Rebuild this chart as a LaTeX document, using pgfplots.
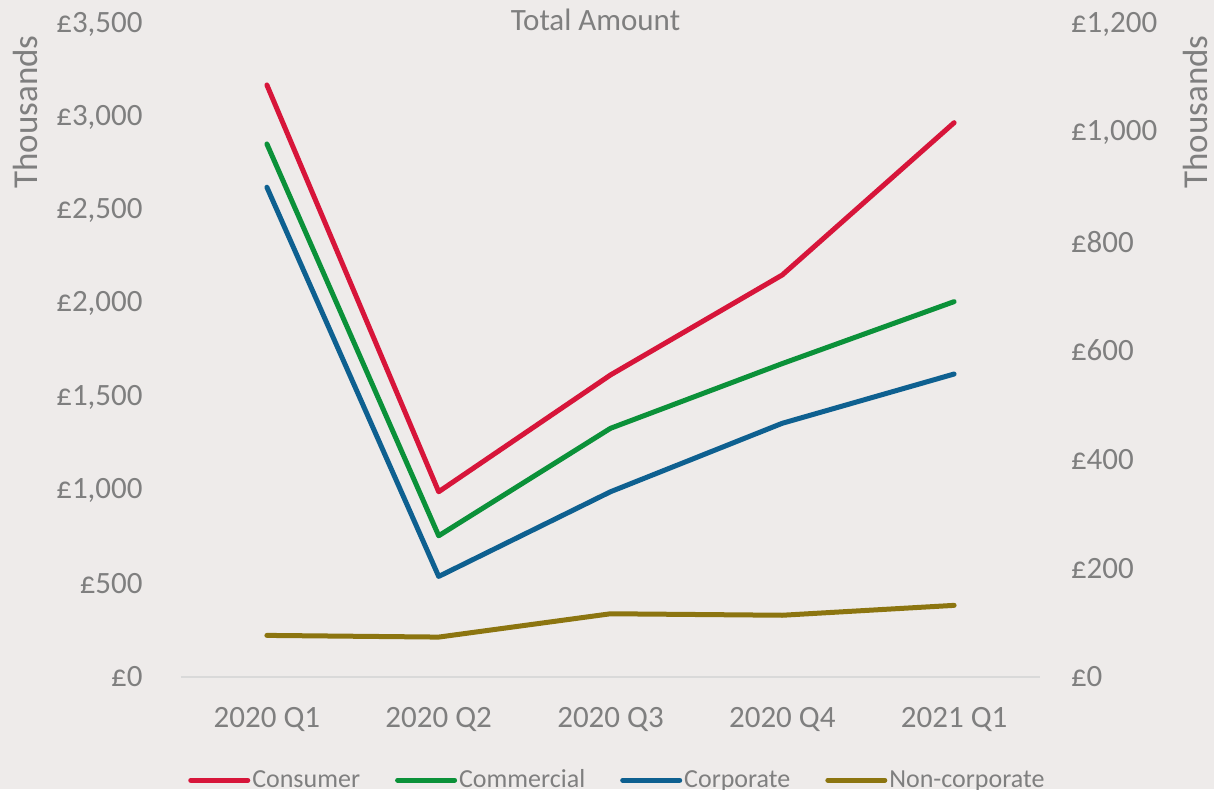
\documentclass[border=0pt]{standalone}
\usepackage{fontspec}
\setmainfont{Carlito}
\usepackage{pgfplots}
\pgfplotsset{compat=1.18}
\definecolor{bg}{HTML}{EEEBEA}
\definecolor{txt}{HTML}{7F7F7F}
\definecolor{cons}{HTML}{D7153A}
\definecolor{comm}{HTML}{0B9139}
\definecolor{corp}{HTML}{0E6090}
\definecolor{ncorp}{HTML}{8C7510}
\definecolor{basec}{HTML}{D9D9D9}

\begin{document}
\begin{tikzpicture}
\fill[bg, use as bounding box] (-90.5pt,-56pt) rectangle (516.5pt,338.5pt);
\begin{axis}[
  at={(0,0)}, anchor=south west,
  scale only axis, width=429.5pt, height=326.5pt,
  xmin=-0.5, xmax=4.5, ymin=0, ymax=3500,
  xtick={0,1,2,3,4},
  xticklabels={2020 Q1,2020 Q2,2020 Q3,2020 Q4,2021 Q1},
  ytick={0,500,1000,1500,2000,2500,3000,3500},
  axis x line*=bottom, axis y line*=left,
  x axis line style={draw=basec, line width=0.75pt, -},
  y axis line style={draw=none},
  major tick length=0pt,
  tick style={draw=none},
  scaled y ticks=false,
  /pgf/number format/assume math mode=true,
  /pgf/number format/1000 sep={,},
  yticklabel={£\pgfmathprintnumber{\tick}},
  ticklabel style={font=\fontsize{15.5}{18}\selectfont, text=txt, inner sep=0pt},
  yticklabel style={anchor=east},
  yticklabel shift=19pt,
  xticklabel style={anchor=north},
  xticklabel shift=15pt,
  clip=false,
  legend columns=4,
  legend style={at={(axis description cs:0.508,-0.158)}, anchor=center,
    draw=none, fill=none, font=\fontsize{13}{15}\selectfont, text=txt,
    /tikz/every even column/.append style={column sep=16.5pt},
    inner sep=0pt, nodes={inner sep=1pt}},
  legend image code/.code={\draw[#1, line width=2.5pt, line cap=round] (0pt,0pt) -- (28.5pt,0pt);},
  every axis plot/.append style={line width=2.5pt, line cap=round, line join=round, mark=none},
]
\addplot[cons] coordinates {(0,3173) (1,993) (2,1619) (3,2155) (4,2971)};
\addlegendentry{Consumer}
\addplot[comm] coordinates {(0,2857) (1,757) (2,1333) (3,1680) (4,2012)};
\addlegendentry{Commercial}
\addplot[corp] coordinates {(0,2625) (1,539) (2,993) (3,1360) (4,1624)};
\addlegendentry{Corporate}
\addplot[ncorp] coordinates {(0,223) (1,214) (2,339) (3,331) (4,384)};
\addlegendentry{Non-corporate}
\end{axis}
\begin{axis}[
  at={(0,0)}, anchor=south west,
  scale only axis, width=429.5pt, height=326.5pt,
  xmin=-0.5, xmax=4.5, ymin=0, ymax=1200,
  ytick={0,200,400,600,800,1000,1200},
  axis y line*=right, axis x line=none,
  y axis line style={draw=none},
  major tick length=0pt,
  tick style={draw=none},
  scaled y ticks=false,
  /pgf/number format/assume math mode=true,
  /pgf/number format/1000 sep={,},
  yticklabel={£\pgfmathprintnumber{\tick}},
  yticklabel style={anchor=west, font=\fontsize{15.5}{18}\selectfont, text=txt, inner sep=0pt},
  yticklabel shift=15.3pt,
]
\addplot[draw=none] coordinates {(0,0) (4,0)};
\end{axis}
\node[rotate=90, anchor=east, inner sep=0pt, text=txt, font=\fontsize{17.5}{20}\selectfont] at (-77.6pt,321pt) {Thousands};
\node[rotate=90, anchor=east, inner sep=0pt, text=txt, font=\fontsize{17.5}{20}\selectfont] at (507pt,321pt) {Thousands};
\node[anchor=base, inner sep=0pt, text=txt, font=\fontsize{15.5}{18}\selectfont] at (207.25pt,323pt) {Total Amount};
\end{tikzpicture}
\end{document}
